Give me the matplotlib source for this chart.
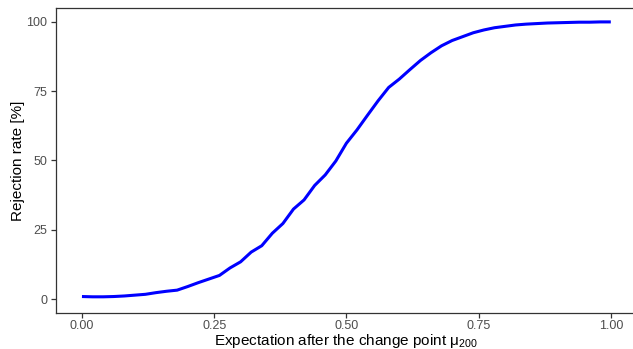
import numpy as np
import matplotlib as mpl
import matplotlib.pyplot as plt
mpl.rcParams['font.family'] = 'Liberation Sans'
mpl.rcParams['mathtext.fontset'] = 'custom'
mpl.rcParams['mathtext.rm'] = 'Liberation Sans'
mpl.rcParams['mathtext.it'] = 'Liberation Sans'

# Expectation after change point vs rejection rate
mu = [0.00, 0.02, 0.04, 0.06, 0.08, 0.10, 0.12, 0.14, 0.16, 0.18,
      0.20, 0.22, 0.24, 0.26, 0.28, 0.30, 0.32, 0.34, 0.36, 0.38,
      0.40, 0.42, 0.44, 0.46, 0.48, 0.50, 0.52, 0.54, 0.56, 0.58,
      0.60, 0.62, 0.64, 0.66, 0.68, 0.70, 0.72, 0.74, 0.76, 0.78,
      0.80, 0.82, 0.84, 0.86, 0.88, 0.90, 0.92, 0.94, 0.96, 0.98, 1.00]
rate = [1.0, 0.9, 0.9, 1.0, 1.2, 1.5, 1.8, 2.4, 2.9, 3.3,
        4.6, 6.0, 7.3, 8.6, 11.3, 13.5, 17.0, 19.3, 23.8, 27.3,
        32.5, 35.8, 41.0, 44.8, 49.8, 56.2, 61.0, 66.3, 71.5, 76.3,
        79.3, 82.7, 86.0, 88.8, 91.3, 93.2, 94.6, 96.0, 97.0, 97.8,
        98.3, 98.8, 99.1, 99.3, 99.5, 99.6, 99.7, 99.8, 99.8, 99.9, 99.9]

xticks = [0.0, 0.25, 0.5, 0.75, 1.0]
xtick_labels = ['0.00', '0.25', '0.50', '0.75', '1.00']
yticks = [0, 25, 50, 75, 100]

fig = plt.figure(figsize=(6.33, 3.49), dpi=100)
ax = fig.add_axes([0.0877, 0.103, 0.919, 0.874])
ax.plot(mu, rate, color='#0000ff', lw=2.2, solid_capstyle='butt')

ax.set_xlim(-0.05, 1.05)
ax.set_ylim(-4.95, 104.9)
ax.set_xticks(xticks)
ax.set_xticklabels(xtick_labels)
ax.set_yticks(yticks)
for s in ax.spines.values():
    s.set_color('#333333')
    s.set_linewidth(0.9)
ax.tick_params(direction='out', length=3.5, width=0.9, color='#333333',
               labelcolor='#4d4d4d', labelsize=9, pad=2.5)
ax.tick_params(axis='x', pad=1.5)
ax.set_xlabel('Expectation after the change point $\\mu_{200}$', fontsize=11)
ax.xaxis.label.set_va('baseline')
ax.xaxis.set_label_coords(0.5, -0.104)
ax.set_ylabel('Rejection rate [%]', fontsize=11)
ax.yaxis.set_label_coords(-0.053, 0.5)

fig.savefig('out.png', dpi=100)
